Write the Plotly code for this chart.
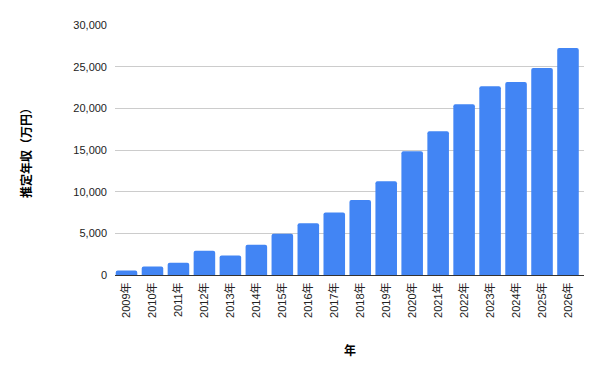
import plotly.graph_objects as go

years = ["2009年", "2010年", "2011年", "2012年", "2013年", "2014年", "2015年", "2016年", "2017年",
         "2018年", "2019年", "2020年", "2021年", "2022年", "2023年", "2024年", "2025年", "2026年"]
income = [550, 1030, 1480, 2920, 2350, 3640, 4960, 6200, 7500,
          9000, 11250, 14850, 17250, 20500, 22650, 23150, 24850, 27250]

font_fam = "Liberation Sans, Arial, Noto Sans CJK JP, sans-serif"

fig = go.Figure(go.Bar(
    x=years, y=income,
    marker=dict(color="#4285F4", line=dict(width=0), cornerradius=2),
))

fig.update_layout(
    width=601, height=371,
    margin=dict(l=115, r=17, t=25, b=96),
    paper_bgcolor="white", plot_bgcolor="white",
    bargap=0.17,
    showlegend=False,
    font=dict(family=font_fam, size=11, color="#222222"),
    xaxis=dict(
        tickangle=-90, showgrid=False, ticks="", showline=True,
        range=[-0.443, 17.616],
        linecolor="#333333", linewidth=1, tickfont=dict(size=11, color="#222222"),
        ticklabelstandoff=2,
    ),
    yaxis=dict(
        range=[0, 30000], dtick=5000, tickformat=",", showgrid=True,
        gridcolor="#cccccc", gridwidth=1, zeroline=False, ticks="",
        tickfont=dict(size=11, color="#222222"),
        ticklabelstandoff=7,
    ),
    annotations=[
        dict(text="<b>推定年収（万円）</b>", xref="paper", yref="paper",
             x=-0.19, y=0.5, xanchor="center", yanchor="middle",
             textangle=-90, showarrow=False, font=dict(size=12, color="#000000")),
        dict(text="<b>年</b>", xref="paper", yref="paper",
             x=0.5, y=-0.3, xanchor="center", yanchor="middle",
             showarrow=False, font=dict(size=12, color="#000000")),
    ],
)

fig.write_html("out.html")
